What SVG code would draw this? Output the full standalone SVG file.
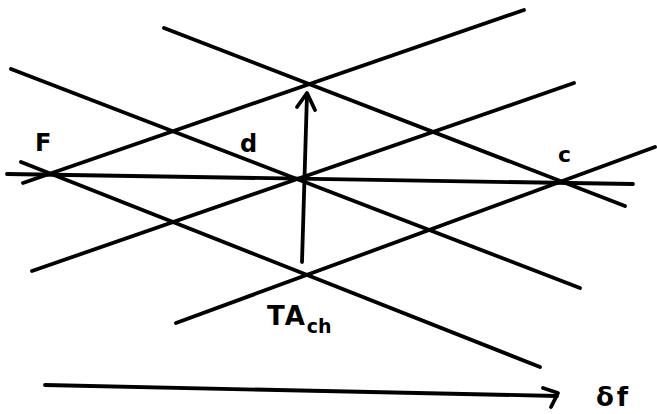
<svg xmlns="http://www.w3.org/2000/svg" width="657" height="414" viewBox="0 0 657 414">
<style>
.ln{stroke:#000;stroke-width:3.8;stroke-linecap:round;fill:none}
.ah{stroke:#000;stroke-width:3.8;stroke-linecap:round;stroke-linejoin:round;fill:none}
.lbl{font-family:"DejaVu Sans","Liberation Sans",sans-serif;font-weight:bold;fill:#000}
</style>
<rect width="657" height="414" fill="#fff"/>
<g id="connectors">
<line class="ln" x1="7" y1="174" x2="633" y2="184"/>
<line class="ln" x1="23" y1="183" x2="524" y2="10"/>
<line class="ln" x1="32" y1="271" x2="574" y2="83"/>
<line class="ln" x1="176" y1="323" x2="655" y2="147"/>
<line class="ln" x1="164" y1="28" x2="625" y2="206"/>
<line class="ln" x1="11" y1="69" x2="580" y2="288"/>
<line class="ln" x1="21" y1="162" x2="540" y2="367"/>
<line class="ln" x1="302" y1="262" x2="307" y2="94"/>
<polyline class="ah" points="297,107 307,93 315,110"/>
<line class="ln" x1="45" y1="385" x2="557" y2="396"/>
<polyline class="ah" points="543,388 558,393 551,407"/>
</g>
<g id="label-F"><text class="lbl" x="35" y="151" font-size="24">F</text></g>
<g id="label-d"><text class="lbl" x="240" y="152" font-size="24">d</text></g>
<g id="label-c"><text class="lbl" x="558" y="162" font-size="22">c</text></g>
<g id="label-TAch"><text class="lbl" x="267" y="325" font-size="26" letter-spacing="2">TA<tspan font-size="19" dy="8" letter-spacing="0">ch</tspan></text></g>
<g id="label-df"><text class="lbl" x="596" y="406" font-size="26" letter-spacing="3">δf</text></g>
</svg>
